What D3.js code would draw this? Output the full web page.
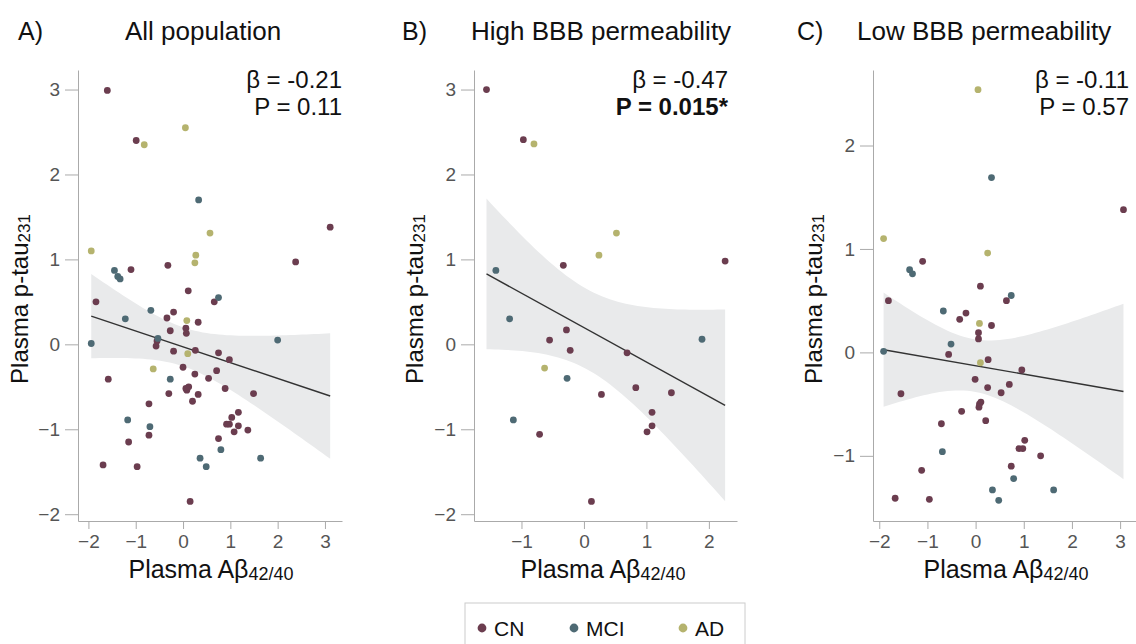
<!DOCTYPE html>
<meta charset="utf-8">
<title>Plasma p-tau231 vs Abeta42/40</title>
<style>
body { margin: 0; background: #fff; }
text { font-family: "Liberation Sans", Arial, sans-serif; }
.axis path, .axis line { stroke: #aaa; }
.axis text { fill: #555; font-size: 19px; }
</style>
<body>
<script src="https://cdn.jsdelivr.net/npm/d3@7"></script>
<script>
var W = 1136, H = 644;

var groups = ["CN", "MCI", "AD"];
var groupColors = ["#6b3d4f", "#4e6a74", "#b5b36e"];

var panelLabels = ["A)", "B)", "C)"];
var panelTitles = ["All population", "High BBB permeability", "Low BBB permeability"];
var betaLabels = ["β = -0.21", "β = -0.47", "β = -0.11"];
var pLabels = ["P = 0.11", "P = 0.015*", "P = 0.57"];

var xTicksA = [-2, -1, 0, 1, 2, 3], yTicksA = [-2, -1, 0, 1, 2, 3];
var xTicksB = [-1, 0, 1, 2],        yTicksB = [-2, -1, 0, 1, 2, 3];
var xTicksC = [-2, -1, 0, 1, 2, 3], yTicksC = [-1, 0, 1, 2];

// A) all population  [Abeta42/40, p-tau231]
var allCN = [[-1.60,2.99],[-0.99,2.40],[3.11,1.38],[2.38,0.97],[-1.10,0.88],[-0.32,0.93],
  [0.11,0.63],[-1.84,0.50],[0.66,0.50],[-0.34,0.31],[-0.20,0.38],[-0.27,0.16],[0.06,0.19],
  [0.07,0.13],[0.32,0.26],[-0.57,-0.02],[-0.55,0.04],[-0.20,-0.08],[0.26,-0.07],[0.75,-0.10],
  [0.98,-0.18],[0.00,-0.27],[0.25,-0.35],[0.71,-0.31],[0.54,-0.40],[-1.58,-0.41],[-0.30,-0.58],
  [0.08,-0.54],[0.12,-0.50],[0.06,-0.52],[0.32,-0.59],[0.20,-0.67],[0.89,-0.52],[1.49,-0.58],
  [-0.72,-0.70],[1.17,-0.80],[1.03,-0.86],[0.92,-0.94],[0.98,-0.94],[1.17,-0.96],[1.08,-1.03],
  [1.37,-1.01],[-0.72,-1.07],[0.75,-1.11],[-1.15,-1.15],[-1.69,-1.42],[-0.97,-1.44],[0.15,-1.85]];
var allMCI = [[-1.94,0.01],[-1.45,0.87],[-1.38,0.80],[-1.33,0.77],[-1.22,0.30],[-0.68,0.40],
  [-0.53,0.07],[-0.27,-0.41],[-1.17,-0.89],[-0.70,-0.97],[0.33,1.70],[0.75,0.55],[0.80,-1.24],
  [0.36,-1.34],[0.49,-1.44],[1.64,-1.34],[2.00,0.05]];
var allAD = [[-1.94,1.10],[-0.82,2.35],[0.05,2.55],[0.57,1.31],[0.27,1.05],[0.25,0.96],
  [0.08,0.28],[0.10,-0.11],[-0.63,-0.29]];

// B) high BBB permeability
var highCN = [[-1.56,3.00],[-0.97,2.41],[-0.33,0.93],[2.26,0.98],[-0.28,0.17],[-0.55,0.05],
  [-0.22,-0.07],[0.69,-0.10],[0.28,-0.59],[0.83,-0.51],[1.40,-0.57],[1.09,-0.80],[1.09,-0.96],
  [1.01,-1.03],[-0.71,-1.06],[0.12,-1.85]];
var highMCI = [[-1.41,0.87],[-1.19,0.30],[-0.27,-0.40],[-1.13,-0.89],[1.89,0.06]];
var highAD = [[-0.80,2.36],[0.52,1.31],[0.24,1.05],[-0.63,-0.28]];

// C) low BBB permeability
var lowCN = [[3.07,1.38],[-1.10,0.88],[0.10,0.64],[-1.81,0.50],[0.64,0.50],[-0.33,0.32],
  [-0.20,0.38],[0.33,0.26],[0.06,0.19],[0.06,0.13],[-0.56,-0.02],[0.26,-0.07],[0.96,-0.17],
  [-0.01,-0.26],[0.70,-0.31],[0.25,-0.34],[0.53,-0.39],[-1.55,-0.40],[0.11,-0.48],[0.08,-0.50],
  [0.07,-0.53],[-0.29,-0.57],[0.21,-0.66],[-0.71,-0.69],[1.02,-0.85],[0.90,-0.93],[0.98,-0.93],
  [1.35,-1.00],[-1.12,-1.14],[0.74,-1.10],[-1.67,-1.41],[-0.96,-1.42]];
var lowMCI = [[0.33,1.69],[-1.37,0.80],[-1.31,0.76],[0.74,0.55],[-0.67,0.40],[-0.51,0.08],
  [-1.91,0.01],[-0.69,-0.96],[0.79,-1.22],[0.35,-1.33],[0.48,-1.43],[1.62,-1.33]];
var lowAD = [[0.05,2.54],[-1.91,1.10],[0.25,0.96],[0.08,0.28],[0.10,-0.10]];

var panels = [
  { data: [allCN, allMCI, allAD], xTicks: xTicksA, yTicks: yTicksA,
    xDom: [-2.22, 3.36], xRange: [78, 342], yDom: [-2.08, 3.23],
    labelX: 18, titleX: 125, annX: 342, yTitleX: 28, xTitleX: 211, bold: false },
  { data: [highCN, highMCI, highAD], xTicks: xTicksB, yTicks: yTicksB,
    xDom: [-1.76, 2.45], xRange: [474, 737], yDom: [-2.08, 3.23],
    labelX: 402, titleX: 471, annX: 728, yTitleX: 423, xTitleX: 603, bold: true },
  { data: [lowCN, lowMCI, lowAD], xTicks: xTicksC, yTicks: yTicksC,
    xDom: [-2.13, 3.33], xRange: [873, 1136], yDom: [-1.63, 2.73],
    labelX: 797, titleX: 857, annX: 1129, yTitleX: 822, xTitleX: 1006, bold: false }
];

var yTop = 70, yBottom = 521;

var svg = d3.select("body").append("svg")
    .attr("width", W)
    .attr("height", H);

// simple linear model with 95% confidence band
function fitLm(pts) {
  var n = pts.length,
      xm = d3.mean(pts, function(d) { return d[0]; }),
      ym = d3.mean(pts, function(d) { return d[1]; }),
      sxx = d3.sum(pts, function(d) { return (d[0] - xm) * (d[0] - xm); }),
      sxy = d3.sum(pts, function(d) { return (d[0] - xm) * (d[1] - ym); }),
      b = sxy / sxx,
      a = ym - b * xm,
      sse = d3.sum(pts, function(d) { var r = d[1] - (a + b * d[0]); return r * r; }),
      s = Math.sqrt(sse / (n - 2)),
      t = 1.96 + 2.4 / (n - 2);
  return {
    a: a, b: b,
    hw: function(x) { return t * s * Math.sqrt(1 / n + (x - xm) * (x - xm) / sxx); }
  };
}

panels.forEach(function(p, i) {
  var x = d3.scaleLinear().domain(p.xDom).range(p.xRange);
  var y = d3.scaleLinear().domain(p.yDom).range([yBottom, yTop]);
  var g = svg.append("g");

  // header
  g.append("text").attr("x", p.labelX).attr("y", 40)
      .style("font-size", "25px").style("fill", "#111").text(panelLabels[i]);
  g.append("text").attr("x", p.titleX).attr("y", 40)
      .style("font-size", "26px").style("fill", "#111").text(panelTitles[i]);

  // axes
  g.append("g").attr("class", "axis")
      .attr("transform", "translate(0," + yBottom + ")")
      .call(d3.axisBottom(x).tickValues(p.xTicks).tickSizeInner(8).tickSizeOuter(0).tickPadding(6)
        .tickFormat(d3.format("d")));
  g.append("g").attr("class", "axis")
      .attr("transform", "translate(" + p.xRange[0] + ",0)")
      .call(d3.axisLeft(y).tickValues(p.yTicks).tickSizeInner(13).tickSizeOuter(0).tickPadding(5)
        .tickFormat(d3.format("d")));

  // regression fit
  var all = [].concat(p.data[0], p.data[1], p.data[2]);
  var lm = fitLm(all);
  var ext = d3.extent(all, function(d) { return d[0]; });
  var xs = d3.range(0, 61).map(function(k) { return ext[0] + (ext[1] - ext[0]) * k / 60; });

  g.append("path")
      .datum(xs)
      .attr("fill", "#e9eaeb")
      .attr("d", d3.area()
        .x(function(d) { return x(d); })
        .y0(function(d) { return y(lm.a + lm.b * d - lm.hw(d)); })
        .y1(function(d) { return y(lm.a + lm.b * d + lm.hw(d)); }));

  g.append("line")
      .attr("x1", x(ext[0])).attr("y1", y(lm.a + lm.b * ext[0]))
      .attr("x2", x(ext[1])).attr("y2", y(lm.a + lm.b * ext[1]))
      .attr("stroke", "#333").attr("stroke-width", 1.4);

  // points
  p.data.forEach(function(pts, gi) {
    g.selectAll(null)
        .data(pts)
      .enter().append("circle")
        .attr("cx", function(d) { return x(d[0]); })
        .attr("cy", function(d) { return y(d[1]); })
        .attr("r", 3.4)
        .attr("fill", groupColors[gi]);
  });

  // annotation
  g.append("text").attr("x", p.annX).attr("y", 88).attr("text-anchor", "end")
      .style("font-size", "24px").style("fill", "#111").text(betaLabels[i]);
  g.append("text").attr("x", p.annX).attr("y", 115).attr("text-anchor", "end")
      .style("font-size", "24px").style("fill", "#111")
      .style("font-weight", p.bold ? "bold" : "normal").text(pLabels[i]);

  // axis titles
  var xt = g.append("text").attr("x", p.xTitleX).attr("y", 578).attr("text-anchor", "middle")
      .style("font-size", "25px").style("fill", "#111");
  xt.append("tspan").text("Plasma Aβ");
  xt.append("tspan").attr("dy", 2).style("font-size", "18px").text("42/40");

  var yt = g.append("text")
      .attr("transform", "translate(" + p.yTitleX + ",299)rotate(-90)")
      .attr("text-anchor", "middle")
      .style("font-size", "24px").style("fill", "#111");
  yt.append("tspan").text("Plasma p-tau");
  yt.append("tspan").attr("dy", 2).style("font-size", "17px").text("231");
});

// legend
var legend = svg.append("g");
legend.append("rect")
    .attr("x", 465).attr("y", 603).attr("width", 280).attr("height", 60)
    .attr("fill", "none").attr("stroke", "#ccc");
var legX = [482, 574, 683];
groups.forEach(function(name, i) {
  legend.append("circle").attr("cx", legX[i]).attr("cy", 628).attr("r", 4.4)
      .attr("fill", groupColors[i]);
  legend.append("text").attr("x", legX[i] + 12).attr("y", 636)
      .style("font-size", "21px").style("fill", "#111").text(name);
});
</script>
